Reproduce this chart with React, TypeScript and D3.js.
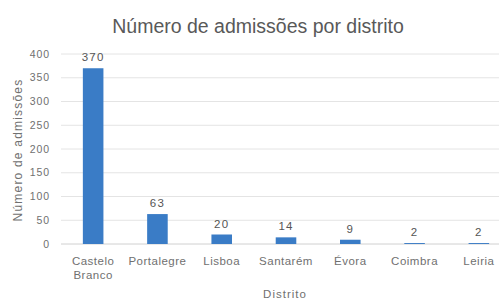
import React from "react";
import * as d3 from "d3";

const categories = ["Castelo Branco", "Portalegre", "Lisboa", "Santarém", "Évora", "Coimbra", "Leiria"];
const values = [370, 63, 20, 14, 9, 2, 2];
const yTicks = [0, 50, 100, 150, 200, 250, 300, 350, 400];

const W = 499;
const H = 300;
const font = "'Liberation Sans', Arial, sans-serif";

export default function App() {
  const x = d3.scaleBand<string>().domain(categories).range([61, 511]).paddingInner(0).paddingOuter(0);
  const y = d3.scaleLinear().domain([0, 400]).range([244, 54]);
  const barW = x.bandwidth() * 0.32;
  return (
    <svg width={W} height={H} style={{ display: "block", position: "absolute", left: 0, top: 0, background: "#fff" }}>
      <rect x={0} y={0} width={W} height={H} fill="#fff" />
      <text x={258} y={33} textAnchor="middle" fontFamily={font} fontSize={19.5} fill="#595959">
        Número de admissões por distrito
      </text>
      {yTicks.map((t) => (
        <g key={t}>
          <line x1={61} x2={W} y1={y(t)} y2={y(t)} stroke={t === 0 ? "#d0d0d0" : "#e4e4e4"} strokeWidth={1} />
          <text x={50} y={y(t)} dy="0.35em" textAnchor="end" fontFamily={font} fontSize={10.5} letterSpacing={0.9} fill="#707070">
            {t}
          </text>
        </g>
      ))}
      {categories.map((c, i) => {
        const cx = (x(c) as number) + x.bandwidth() / 2;
        const v = values[i];
        const lines = c === "Castelo Branco" ? ["Castelo", "Branco"] : [c];
        return (
          <g key={c}>
            <rect x={cx - barW / 2} y={y(v)} width={barW} height={y(0) - y(v)} fill="#3a7cc6" />
            <text x={cx} y={y(v) - 7} textAnchor="middle" fontFamily={font} fontSize={11.5} letterSpacing={1.2} fill="#555">
              {v}
            </text>
            {lines.map((l, j) => (
              <text key={l} x={cx} y={261 + j * 13.5} dy="0.35em" textAnchor="middle" fontFamily={font} fontSize={11.5} letterSpacing={0.5} fill="#707070">
                {l}
              </text>
            ))}
          </g>
        );
      })}
      <text x={285} y={297.5} textAnchor="middle" fontFamily={font} fontSize={11.5} letterSpacing={1} fill="#707070">
        Distrito
      </text>
      <text transform={`translate(18,150) rotate(-90)`} textAnchor="middle" dy="0.35em" fontFamily={font} fontSize={12} letterSpacing={1.2} fill="#707070">
        Número de admissões
      </text>
    </svg>
  );
}
